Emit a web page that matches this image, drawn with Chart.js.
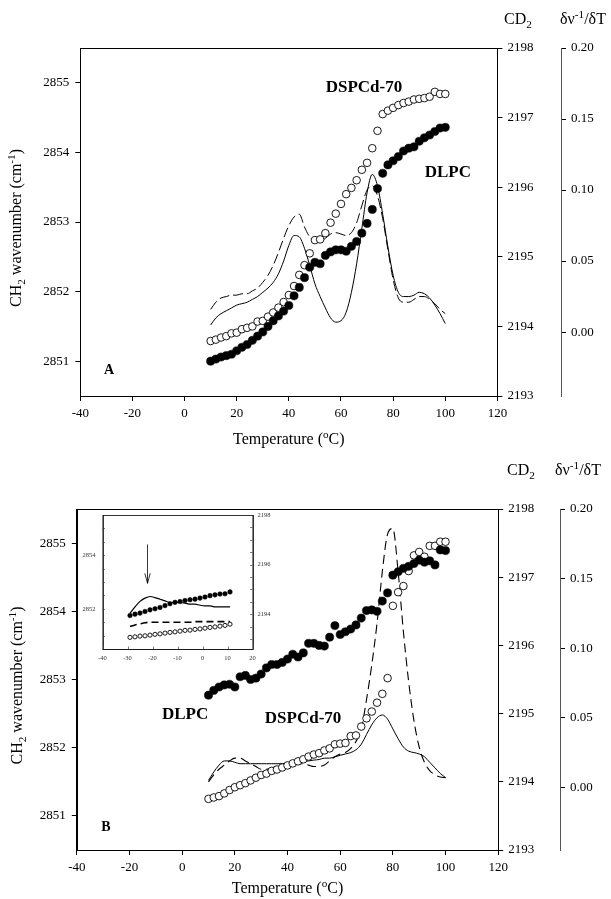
<!DOCTYPE html>
<html>
<head>
<meta charset="utf-8">
<script src="https://cdn.jsdelivr.net/npm/chart.js@4.4.1/dist/chart.umd.min.js"></script>
<style>
  html, body { margin: 0; padding: 0; background: #fff; }
  body { width: 611px; height: 899px; position: relative; overflow: hidden; }
  canvas { position: absolute; }
</style>
</head>
<body>
<canvas id="chartA" width="611" height="450" style="left:0;top:0"></canvas>
<canvas id="chartB" width="611" height="449" style="left:0;top:450px"></canvas>
<canvas id="inset" width="206" height="170" style="left:72px;top:503px"></canvas>
<script>
// temperatures (deg C) of the measured points, main panels
const temps = [10,12,14,16,18,20,22,24,26,28,30,32,34,36,38,40,42,44,46,48,50,52,54,56,58,60,62,64,66,68,70,72,74,76,78,80,82,84,86,88,90,92,94,96,98,100];

// panel A
const dlpcA = [2851.00,2851.03,2851.06,2851.08,2851.10,2851.15,2851.20,2851.24,2851.30,2851.36,2851.42,2851.50,2851.58,2851.65,2851.72,2851.80,2851.94,2852.06,2852.20,2852.35,2852.42,2852.40,2852.52,2852.57,2852.60,2852.60,2852.58,2852.65,2852.72,2852.84,2852.98,2853.18,2853.48,2853.70,2853.82,2853.88,2853.94,2854.02,2854.06,2854.08,2854.16,2854.21,2854.25,2854.30,2854.35,2854.36];
const dspcA = [2193.79,2193.81,2193.84,2193.86,2193.90,2193.91,2193.96,2193.98,2194.00,2194.07,2194.08,2194.14,2194.20,2194.27,2194.35,2194.45,2194.58,2194.74,2194.88,2195.05,2195.24,2195.25,2195.34,2195.49,2195.62,2195.76,2195.90,2195.99,2196.10,2196.25,2196.35,2196.56,2196.81,2197.05,2197.10,2197.14,2197.18,2197.21,2197.23,2197.26,2197.27,2197.28,2197.30,2197.37,2197.34,2197.34];
const solidA = [0.005,0.010,0.013,0.015,0.017,0.019,0.020,0.021,0.023,0.025,0.028,0.031,0.035,0.041,0.050,0.061,0.068,0.067,0.059,0.047,0.034,0.025,0.017,0.010,0.007,0.008,0.014,0.028,0.048,0.073,0.098,0.111,0.103,0.083,0.060,0.040,0.028,0.025,0.025,0.026,0.028,0.027,0.024,0.019,0.013,0.006];
const dashA = [0.016,0.021,0.024,0.025,0.026,0.026,0.027,0.027,0.029,0.031,0.035,0.040,0.047,0.056,0.066,0.075,0.081,0.083,0.074,0.067,0.064,0.064,0.066,0.069,0.070,0.069,0.068,0.070,0.077,0.089,0.100,0.103,0.096,0.080,0.058,0.037,0.024,0.021,0.021,0.023,0.025,0.025,0.023,0.020,0.016,0.013];

// panel B
const dlpcB = [2852.77,2852.84,2852.89,2852.92,2852.93,2852.89,2853.04,2853.06,2853.00,2853.02,2853.08,2853.17,2853.22,2853.22,2853.25,2853.30,2853.37,2853.33,2853.39,2853.53,2853.53,2853.50,2853.49,2853.62,2853.79,2853.66,2853.70,2853.74,2853.80,2853.90,2854.01,2854.02,2854.00,2854.15,2854.27,2854.53,2854.58,2854.63,2854.66,2854.70,2854.75,2854.72,2854.74,2854.68,2854.90,2854.89];
const dspcB = [2193.75,2193.77,2193.79,2193.83,2193.88,2193.92,2193.95,2193.98,2194.02,2194.06,2194.10,2194.12,2194.16,2194.18,2194.21,2194.24,2194.27,2194.30,2194.33,2194.37,2194.40,2194.42,2194.46,2194.49,2194.55,2194.56,2194.57,2194.67,2194.68,2194.81,2194.93,2195.03,2195.16,2195.29,2195.52,2196.58,2196.78,2196.87,2197.09,2197.32,2197.37,2197.30,2197.46,2197.46,2197.52,2197.52];
const solidB = [0.005,0.011,0.016,0.019,0.019,0.018,0.017,0.017,0.017,0.017,0.017,0.017,0.017,0.017,0.017,0.0175,0.0178,0.018,0.0185,0.019,0.0196,0.020,0.021,0.021,0.022,0.023,0.024,0.025,0.027,0.031,0.038,0.045,0.050,0.052,0.049,0.042,0.035,0.029,0.026,0.025,0.024,0.022,0.018,0.014,0.010,0.007];
const dashB = [0.004,0.009,0.013,0.016,0.019,0.021,0.021,0.019,0.017,0.015,0.013,0.013,0.014,0.015,0.016,0.016,0.017,0.017,0.017,0.016,0.015,0.015,0.016,0.019,0.022,0.024,0.025,0.028,0.033,0.042,0.063,0.088,0.118,0.155,0.182,0.186,0.155,0.112,0.076,0.048,0.029,0.018,0.012,0.009,0.0075,0.007];

// inset of panel B
const insetTemps = [-29,-27,-25,-23,-21,-19,-17,-15,-13,-11,-9,-7,-5,-3,-1,1,3,5,7,9,11];
const insetDlpc = [2851.75,2851.80,2851.84,2851.90,2851.96,2852.00,2852.05,2852.12,2852.19,2852.24,2852.27,2852.31,2852.34,2852.36,2852.40,2852.44,2852.49,2852.52,2852.55,2852.56,2852.63];
const insetDspc = [2193.07,2193.09,2193.12,2193.13,2193.16,2193.19,2193.21,2193.24,2193.27,2193.29,2193.32,2193.35,2193.36,2193.39,2193.41,2193.44,2193.47,2193.49,2193.52,2193.55,2193.60];
const insetSolid = [0.020,0.032,0.042,0.048,0.051,0.049,0.046,0.043,0.040,0.040,0.040,0.039,0.037,0.037,0.035,0.034,0.034,0.032,0.032,0.032,0.032];
const insetDash = [-0.004,-0.001,0.001,0.003,0.004,0.004,0.004,0.004,0.004,0.004,0.004,0.004,0.004,0.005,0.005,0.005,0.005,0.005,0.005,0.005,0.005];

// tick values
const tempTicks = [-40,-20,0,20,40,60,80,100,120];
const ch2Ticks = [2851,2852,2853,2854,2855];
const cd2Ticks = [2193,2194,2195,2196,2197,2198];
const dvTicks = [0,0.05,0.10,0.15,0.20];
const insetTempTicks = [-40,-30,-20,-10,0,10,20];
const insetCh2Ticks = [2851,2851.5,2852,2852.5,2853,2853.5,2854,2854.5,2855];
const insetCh2Labels = [2852,2854];
const insetCd2Ticks = [2193,2193.5,2194,2194.5,2195,2195.5,2196,2196.5,2197,2197.5,2198];
const insetCd2Labels = [2194,2196,2198];

const serif = "'Liberation Serif', 'Times New Roman', serif";
Chart.defaults.font.family = serif;
Chart.defaults.color = '#000';

function fontStr(size, bold) {
  return (bold ? 'bold ' : '') + size + 'px ' + serif;
}

// text with sub/superscripts: segs = [[text, 0|1|-1], ...], centred on x, y = baseline
function drawRich(ctx, segs, x, y, size) {
  let total = 0;
  const parts = segs.map(([t, k]) => {
    const s = k ? size * 0.7 : size;
    ctx.font = fontStr(s);
    const w = ctx.measureText(t).width;
    total += w;
    return { t, k, s, w };
  });
  let cx = x - total / 2;
  ctx.textAlign = 'left';
  ctx.textBaseline = 'alphabetic';
  parts.forEach(p => {
    ctx.font = fontStr(p.s);
    const dy = p.k === 1 ? -size * 0.4 : (p.k === -1 ? size * 0.28 : 0);
    ctx.fillText(p.t, cx, y + dy);
    cx += p.w;
  });
}

const decor = {
  id: 'decor',
  afterDraw(chart, args, o) {
    const { ctx, chartArea: a, scales } = chart;
    ctx.save();
    ctx.strokeStyle = '#000';
    ctx.fillStyle = '#000';
    ctx.lineWidth = o.frameWidth || 1;
    ctx.strokeRect(Math.round(a.left) + 0.5, Math.round(a.top) + 0.5,
                   Math.round(a.right - a.left), Math.round(a.bottom - a.top));

    if (o.xTitle) drawRich(ctx, o.xTitle, (a.left + a.right) / 2 + (o.xTitleShift || 0), o.xTitleY, o.titleSize);
    if (o.yTitle) {
      ctx.save();
      ctx.translate(o.yTitleX, (a.top + a.bottom) / 2 + (o.yTitleShift || 0));
      ctx.rotate(-Math.PI / 2);
      drawRich(ctx, o.yTitle, 0, 0, o.titleSize);
      ctx.restore();
    }
    (o.heads || []).forEach(h => drawRich(ctx, h.segs, h.x, h.y, h.size));
    (o.labels || []).forEach(l => {
      ctx.font = fontStr(l.size, true);
      ctx.textAlign = 'center';
      ctx.textBaseline = 'middle';
      ctx.fillText(l.text, scales.x.getPixelForValue(l.x), scales.y.getPixelForValue(l.y));
    });
    if (o.arrow) {
      const ax = scales.x.getPixelForValue(o.arrow.x);
      const y1 = scales.y.getPixelForValue(o.arrow.y1);
      const y2 = scales.y.getPixelForValue(o.arrow.y2);
      ctx.lineWidth = 0.8;
      ctx.beginPath();
      ctx.moveTo(ax, y1); ctx.lineTo(ax, y2);
      ctx.moveTo(ax - 2.7, y2 - 10); ctx.lineTo(ax, y2); ctx.lineTo(ax + 2.7, y2 - 10);
      ctx.stroke();
    }
    if (o.innerTicks) {
      ctx.lineWidth = 0.7;
      ctx.strokeStyle = '#444';
      const L = 2.5;
      ctx.beginPath();
      scales.x.ticks.forEach(t => {
        const px = Math.round(scales.x.getPixelForValue(t.value)) + 0.5;
        ctx.moveTo(px, a.bottom); ctx.lineTo(px, a.bottom - L);
      });
      scales.y.ticks.forEach(t => {
        const py = Math.round(scales.y.getPixelForValue(t.value)) + 0.5;
        ctx.moveTo(a.left, py); ctx.lineTo(a.left + L, py);
      });
      scales.cd.ticks.forEach(t => {
        const py = Math.round(scales.cd.getPixelForValue(t.value)) + 0.5;
        ctx.moveTo(a.right, py); ctx.lineTo(a.right - L, py);
      });
      ctx.stroke();
    }
    ctx.restore();
  }
};

function pts(xs, ys) {
  return xs.map((x, i) => ({ x: x, y: ys[i] }));
}

function dots(xs, ys, axis, filled, r) {
  return {
    data: pts(xs, ys), yAxisID: axis, showLine: false,
    pointRadius: r, pointHoverRadius: r,
    pointBackgroundColor: filled ? '#000' : '#fff',
    pointBorderColor: '#000', pointBorderWidth: filled ? 0.5 : 0.9
  };
}

function curve(xs, ys, axis, dash, w) {
  return {
    data: pts(xs, ys), yAxisID: axis, showLine: true,
    borderColor: '#000', borderWidth: w, borderDash: dash,
    pointRadius: 0, cubicInterpolationMode: 'monotone', fill: false
  };
}

function setTicks(arr) {
  return s => { s.ticks = arr.map(v => ({ value: v })); };
}

function mainScales(sz) {
  const tickFont = { size: 13, family: serif };
  const grid = { display: true, drawOnChartArea: false, drawTicks: true, tickLength: 5, color: '#000' };
  const border = { display: true, color: '#000', width: 1 };
  return {
    x: {
      type: 'linear', position: 'bottom', min: -40, max: 120,
      afterBuildTicks: setTicks(tempTicks), afterFit: s => { s.height = sz.xh; },
      grid: grid, border: border,
      ticks: { font: tickFont, padding: 5, maxRotation: 0, autoSkip: false, callback: v => String(v) }
    },
    y: {
      type: 'linear', position: 'left', min: 2850.5, max: 2855.5,
      afterBuildTicks: setTicks(ch2Ticks), afterFit: s => { s.width = sz.yw; },
      grid: grid, border: border,
      ticks: { font: tickFont, padding: 6, callback: v => String(v) }
    },
    cd: {
      type: 'linear', position: 'right', weight: 0, min: 2193, max: 2198,
      afterBuildTicks: setTicks(cd2Ticks), afterFit: s => { s.width = sz.cdw; },
      grid: grid, border: border,
      ticks: { font: tickFont, padding: 5, callback: v => String(v) }
    },
    dv: {
      type: 'linear', position: 'right', weight: 1, min: -0.045, max: 0.20,
      afterBuildTicks: setTicks(dvTicks), afterFit: s => { s.width = sz.dvw; },
      grid: grid, border: { display: true, color: '#555', width: 1 },
      ticks: { font: tickFont, padding: 5, callback: v => v.toFixed(2) }
    }
  };
}

const xTitleSegs = [['Temperature (', 0], ['o', 1], ['C)', 0]];
const yTitleSegs = [['CH', 0], ['2', -1], [' wavenumber (cm', 0], ['-1', 1], [')', 0]];

function makeMain(id, sets, sz, deco) {
  return new Chart(document.getElementById(id), {
    type: 'line',
    data: { datasets: sets },
    options: {
      responsive: false, animation: false, events: [],
      layout: { padding: { top: sz.top, left: 0, right: 0, bottom: 0 } },
      plugins: { legend: { display: false }, tooltip: { enabled: false }, decor: deco },
      scales: mainScales(sz)
    },
    plugins: [decor]
  });
}

// panel A
makeMain('chartA', [
  dots(temps, dlpcA, 'y', true, 4.1),
  dots(temps, dspcA, 'cd', false, 3.8),
  curve(temps, solidA, 'dv', [], 1),
  curve(temps, dashA, 'dv', [10, 4], 1)
], { top: 48, xh: 54, yw: 80.3, cdw: 63.6, dvw: 50 }, {
  xTitle: xTitleSegs, xTitleY: 444, titleSize: 16,
  yTitle: yTitleSegs, yTitleX: 21, yTitleShift: 6,
  heads: [
    { segs: [['CD', 0], ['2', -1]], x: 518, y: 24, size: 16 },
    { segs: [['δν', 0], ['-1', 1], ['/δT', 0]], x: 583, y: 24, size: 16 }
  ],
  labels: [
    { text: 'DSPCd-70', x: 68.8, y: 2854.93, size: 17 },
    { text: 'DLPC', x: 101, y: 2853.71, size: 17 },
    { text: 'A', x: -29, y: 2850.87, size: 14 }
  ]
});

// panel B
makeMain('chartB', [
  dots(temps, dlpcB, 'y', true, 4.1),
  dots(temps, dspcB, 'cd', false, 3.8),
  curve(temps, solidB, 'dv', [], 1),
  curve(temps, dashB, 'dv', [9, 5], 1.1)
], { top: 59, xh: 49, yw: 76.8, cdw: 61.8, dvw: 51 }, {
  xTitle: xTitleSegs, xTitleY: 443, titleSize: 16,
  yTitle: yTitleSegs, yTitleX: 22, yTitleShift: 6,
  heads: [
    { segs: [['CD', 0], ['2', -1]], x: 521, y: 25, size: 16 },
    { segs: [['δν', 0], ['-1', 1], ['/δT', 0]], x: 578, y: 25, size: 16 }
  ],
  labels: [
    { text: 'DLPC', x: 1.1, y: 2852.49, size: 17 },
    { text: 'DSPCd-70', x: 45.9, y: 2852.43, size: 17 },
    { text: 'B', x: -28.9, y: 2850.83, size: 14 }
  ]
});

// inset of panel B
const insetFont = { size: 6.5, family: serif };
const noGrid = { display: false, drawTicks: false };
const insetBorder = { display: true, color: '#666', width: 0.8 };
new Chart(document.getElementById('inset'), {
  type: 'line',
  data: {
    datasets: [
      dots(insetTemps, insetDlpc, 'y', true, 2.3),
      dots(insetTemps, insetDspc, 'cd', false, 2.1),
      curve(insetTemps, insetSolid, 'dv', [], 1.2),
      curve(insetTemps, insetDash, 'dv', [7, 4], 1.6)
    ]
  },
  options: {
    responsive: false, animation: false, events: [],
    layout: { padding: { top: 12, left: 0, right: 0, bottom: 0 } },
    plugins: {
      legend: { display: false }, tooltip: { enabled: false },
      decor: { frameWidth: 0.8, innerTicks: true, arrow: { x: -22, y1: 2854.4, y2: 2852.95 } }
    },
    scales: {
      x: {
        type: 'linear', position: 'bottom', min: -40, max: 20,
        afterBuildTicks: setTicks(insetTempTicks), afterFit: s => { s.height = 24; },
        grid: noGrid, border: insetBorder,
        ticks: { font: insetFont, padding: 5, maxRotation: 0, autoSkip: false, color: '#333', callback: v => String(v) }
      },
      y: {
        type: 'linear', position: 'left', min: 2850.5, max: 2855.5,
        afterBuildTicks: setTicks(insetCh2Ticks), afterFit: s => { s.width = 30.5; },
        grid: noGrid, border: insetBorder,
        ticks: { font: insetFont, padding: 7, autoSkip: false, color: '#333',
                 callback: v => insetCh2Labels.includes(v) ? String(v) : '' }
      },
      cd: {
        type: 'linear', position: 'right', min: 2192.6, max: 2198,
        afterBuildTicks: setTicks(insetCd2Ticks), afterFit: s => { s.width = 25.5; },
        grid: noGrid, border: insetBorder,
        ticks: { font: insetFont, padding: 5, autoSkip: false, color: '#333',
                 callback: v => insetCd2Labels.includes(v) ? String(v) : '' }
      },
      dv: { type: 'linear', display: false, min: -0.045, max: 0.20 }
    }
  },
  plugins: [decor]
});
</script>
</body>
</html>
